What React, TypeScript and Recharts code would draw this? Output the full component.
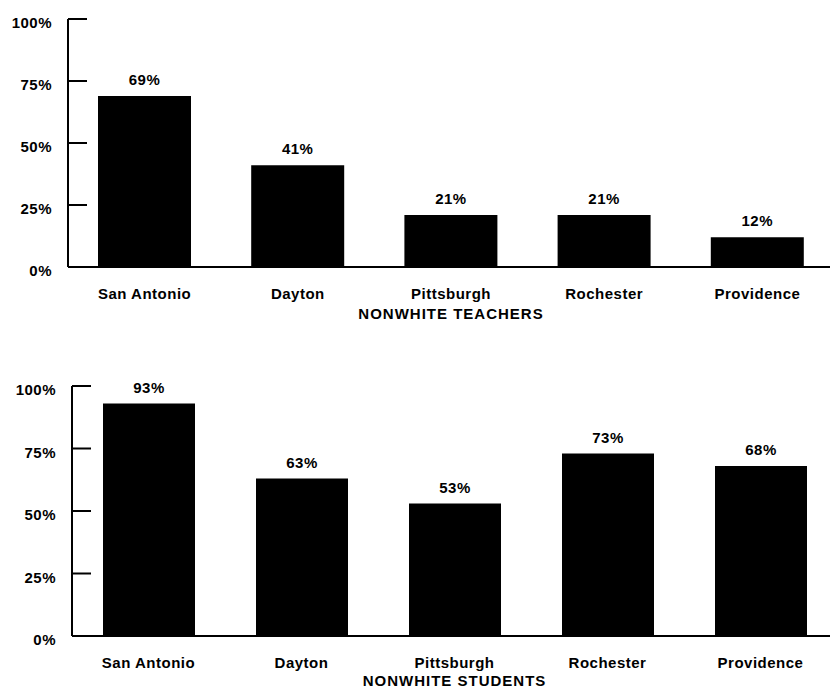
import { BarChart, Bar, XAxis, YAxis, LabelList, Label } from "recharts";

const cities = ["San Antonio", "Dayton", "Pittsburgh", "Rochester", "Providence"];
const teacherPct = [69, 41, 21, 21, 12];
const studentPct = [93, 63, 53, 73, 68];
const yTicks = [0, 25, 50, 75, 100];

const teacherData = cities.map((city, i) => ({ city, pct: teacherPct[i] }));
const studentData = cities.map((city, i) => ({ city, pct: studentPct[i] }));

const FONT = '"Liberation Sans", Arial, Helvetica, sans-serif';
const textStyle = { fontFamily: FONT, fontSize: 15, fontWeight: 700, fill: "#000", letterSpacing: 0.5 };

// y tick: label on the left, short tick mark pointing into the plot
function makeYTick(margin: number) {
  return function YTick(props: any) {
    const { x, y, payload } = props;
    const axisX = x + margin;
    return (
      <g>
        <line x1={axisX} x2={axisX + 19} y1={y} y2={y} stroke="#000" strokeWidth={2} />
        <text x={x} y={y + 4} dy="0.35em" textAnchor="end" style={textStyle}>
          {payload.value}%
        </text>
      </g>
    );
  };
}

function XTick(props: any) {
  const { x, y, payload } = props;
  return (
    <text x={x} y={y} dy="0.71em" textAnchor="middle" style={textStyle}>
      {payload.value}
    </text>
  );
}

function CityChart({ data, title, height, margin, yWidth, xHeight, titleOffset, barSize }: any) {
  return (
    <BarChart width={830} height={height} data={data} margin={margin}>
      <XAxis
        dataKey="city"
        axisLine={{ stroke: "#000", strokeWidth: 2 }}
        tickLine={false}
        tickSize={0}
        tickMargin={21}
        tick={<XTick />}
        height={xHeight}
        interval={0}
      >
        <Label
          value={title}
          position="insideBottom"
          offset={titleOffset}
          style={{ ...textStyle, letterSpacing: 1 }}
        />
      </XAxis>
      <YAxis
        domain={[0, 100]}
        ticks={yTicks}
        width={yWidth}
        axisLine={{ stroke: "#000", strokeWidth: 2 }}
        tickLine={false}
        tickSize={0}
        tickMargin={16}
        tick={makeYTick(16)}
        interval={0}
      />
      <Bar dataKey="pct" fill="#000" barSize={barSize} isAnimationActive={false}>
        <LabelList
          dataKey="pct"
          position="top"
          offset={11}
          formatter={(v: any) => `${v}%`}
          style={textStyle}
        />
      </Bar>
    </BarChart>
  );
}

export default function App() {
  return (
    <div
      style={{
        position: "absolute",
        left: 0,
        top: 0,
        width: 830,
        height: 690,
        background: "#fff",
        fontFamily: FONT,
        overflow: "hidden",
      }}
    >
      <CityChart
        data={teacherData}
        title="NONWHITE TEACHERS"
        height={340}
        margin={{ top: 19, right: -4, bottom: 13, left: 0 }}
        yWidth={68}
        xHeight={60}
        titleOffset={8}
        barSize={93}
      />
      <CityChart
        data={studentData}
        title="NONWHITE STUDENTS"
        height={350}
        margin={{ top: 46, right: -7, bottom: 0, left: 0 }}
        yWidth={72}
        xHeight={54}
        titleOffset={4}
        barSize={92}
      />
    </div>
  );
}
